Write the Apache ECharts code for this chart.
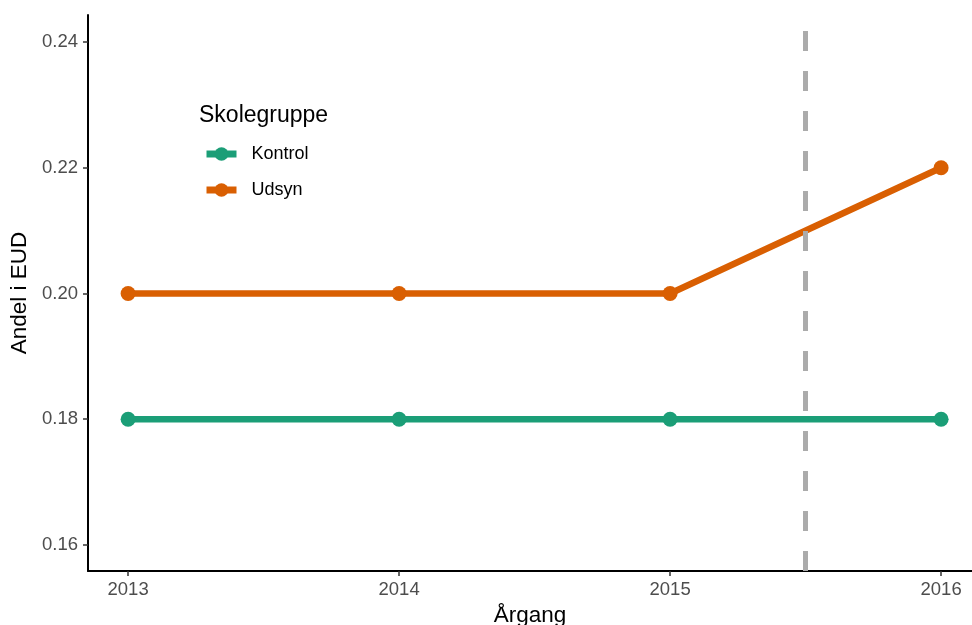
<!DOCTYPE html>
<html>
<head>
<meta charset="utf-8">
<script src="https://cdn.jsdelivr.net/npm/echarts@6/dist/echarts.min.js"></script>
<style>
  html, body { margin: 0; padding: 0; background: #fff; }
  #chart { width: 972px; height: 625px; }
</style>
</head>
<body>
<div id="chart"></div>
<script>
// --- data ---
const years = [2013, 2014, 2015, 2016];
const kontrol = [0.18, 0.18, 0.18, 0.18];
const udsyn = [0.20, 0.20, 0.20, 0.22];
const yTicks = [0.16, 0.18, 0.20, 0.22, 0.24];
const cutYear = 2015.5; // stiplet lodret linje

const font = '"Liberation Sans", Arial, sans-serif';
const chart = echarts.init(document.getElementById('chart'));

const pairs = arr => years.map((y, i) => [y, arr[i]]);

chart.setOption({
  animation: false,
  grid: { left: 88, right: 0, top: 15, bottom: 54, outerBoundsMode: 'none' },
  xAxis: {
    type: 'value',
    min: 2012.852,
    max: 2016.114,
    name: 'Årgang',
    nameLocation: 'middle',
    nameGap: 28,
    nameTextStyle: { color: '#000', fontSize: 22.5, fontFamily: font },
    axisLine: { show: true, lineStyle: { color: '#000', width: 2 } },
    axisTick: { show: true, customValues: years, length: 5, lineStyle: { color: '#333', width: 1.5 } },
    axisLabel: {
      customValues: years, color: '#4d4d4d', fontSize: 18.5, fontFamily: font, margin: 9,
      formatter: v => String(v)
    },
    splitLine: { show: false }
  },
  yAxis: {
    type: 'value',
    min: 0.15586,
    max: 0.24429,
    name: 'Andel i EUD',
    nameLocation: 'middle',
    nameGap: 44,
    nameTextStyle: { color: '#000', fontSize: 22.5, fontFamily: font },
    axisLine: { show: true, lineStyle: { color: '#000', width: 2 } },
    axisTick: { show: true, customValues: yTicks, length: 5, lineStyle: { color: '#333', width: 1.5 } },
    axisLabel: {
      customValues: yTicks, color: '#4d4d4d', fontSize: 18.5, fontFamily: font, margin: 10,
      formatter: v => v.toFixed(2)
    },
    splitLine: { show: false }
  },
  graphic: [{
    type: 'text', left: 199, top: 104,
    style: { text: 'Skolegruppe', fontSize: 23, fontFamily: font, fill: '#000' }
  }],
  legend: {
    orient: 'vertical',
    left: 203,
    top: 145,
    padding: 0,
    itemWidth: 30,
    itemHeight: 17,
    itemGap: 18,
    lineStyle: { width: 7 },
    textStyle: { color: '#000', fontSize: 18, fontFamily: font, padding: [0, 0, 0, 10] },
    data: ['Kontrol', 'Udsyn']
  },
  series: [
    {
      name: 'Kontrol',
      type: 'line',
      data: pairs(kontrol),
      symbol: 'circle',
      symbolSize: 15,
      lineStyle: { width: 6.5, color: '#1B9E77' },
      itemStyle: { color: '#1B9E77' },
      z: 2
    },
    {
      name: 'Udsyn',
      type: 'line',
      data: pairs(udsyn),
      symbol: 'circle',
      symbolSize: 15,
      lineStyle: { width: 6.5, color: '#D95F02' },
      itemStyle: { color: '#D95F02' },
      z: 2,
      markLine: {
        silent: true,
        symbol: 'none',
        label: { show: false },
        lineStyle: { color: '#ababab', width: 5, type: [20, 20] },
        data: [{ xAxis: cutYear }],
        z: 5
      }
    }
  ]
});
</script>
</body>
</html>
